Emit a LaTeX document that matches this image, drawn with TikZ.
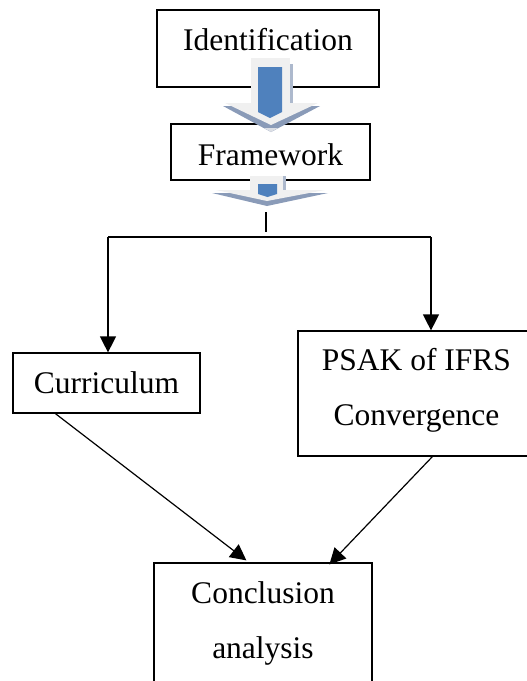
\documentclass[tikz,border=0pt]{standalone}
\usepackage{fontspec}
\setmainfont{Liberation Serif}
\usetikzlibrary{arrows.meta}
\definecolor{arrowblue}{HTML}{4F81BD}
\definecolor{arrowrim}{HTML}{F0F0F0}
\definecolor{arrowshade}{HTML}{8A9BB8}
\tikzset{
	box/.style={draw, line width=1.2pt, rectangle, inner sep=0pt, font=\fontsize{31.5}{55}\selectfont, align=center},
	wire/.style={line width=1.2pt},
	link/.style={line width=1.2pt, -{Triangle[length=16pt,width=16pt]}},
}
\begin{document}
\begin{tikzpicture}[x=1pt, y=-1pt]

	\useasboundingbox (0,0) rectangle (527,681);

	\node[box, minimum width=222pt, minimum height=77pt, text height=22pt, text depth=19pt] (ident) at (268,48.5) {Identification};
	\node[box, minimum width=199pt, minimum height=56pt, text height=26pt, text depth=0pt] (frame) at (270.5,152) {Framework};
	\node[box, minimum width=187pt, minimum height=60pt, text height=22pt, text depth=2pt] (curr) at (106.5,383) {Curriculum};
	\node[box, minimum width=237pt, minimum height=125pt, text depth=13pt] (psak) at (416.5,393.5) {PSAK of IFRS\\Convergence};
	\node[box, minimum width=218pt, minimum height=127pt, text depth=13pt] (concl) at (263,626.5) {Conclusion\\analysis};

	\fill[arrowrim] (251,58) rectangle (290,107);
	\fill[arrowshade!70] (290,64) rectangle (293,105);
	\fill[arrowshade] (223,106) -- (320,106) -- (271,132) -- cycle;
	\fill[arrowrim] (225,103) -- (318,103) -- (271,125) -- cycle;
	\fill[arrowrim!80!arrowshade] (264,128) -- (278,128) -- (271,132) -- cycle;
	\fill[arrowblue] (258,67) -- (282,67) -- (282,112) -- (270,118) -- (258,112) -- cycle;

	\fill[arrowrim] (250,176) rectangle (283,194);
	\fill[arrowshade!70] (283,176) rectangle (286,190);
	\fill[arrowshade] (212,193) -- (328,193) -- (267,206) -- cycle;
	\fill[arrowrim] (216,190) -- (325,190) -- (267,201) -- cycle;
	\fill[arrowblue] (258,184) -- (277,184) -- (277,194) -- (267.5,197) -- (258,194) -- cycle;

	\coordinate (stubtop) at (266,212);
	\coordinate (stubend) at (266,232);
	\coordinate (splitleft) at (108,237);
	\coordinate (splitright) at (431,237);

	\draw[wire] (stubtop) -- (stubend);
	\draw[wire] (splitleft) -- (splitright);
	\draw[link] (splitleft) -- (splitleft |- curr.north);
	\draw[link] (splitright) -- (splitright |- psak.north);
	\draw[link] ([xshift=43pt]curr.south west) -- ([xshift=93pt, yshift=2pt]concl.north west);
	\draw[link] ([xshift=135pt]psak.south west) -- ([xshift=176pt, yshift=-2pt]concl.north west);

\end{tikzpicture}
\end{document}
